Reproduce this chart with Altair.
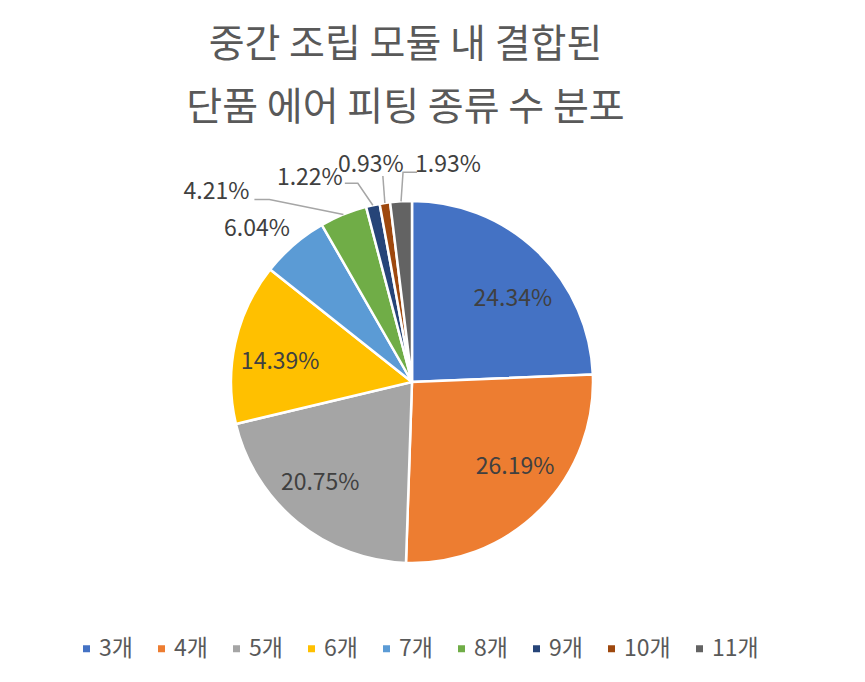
import altair as alt
import pandas as pd
import numpy as np

# ---- data ----
categories = ["3개", "4개", "5개", "6개", "7개", "8개", "9개", "10개", "11개"]
shares = [24.34, 26.19, 20.75, 14.39, 6.04, 4.21, 1.22, 0.93, 1.93]
title_lines = ["중간 조립 모듈 내 결합된", "단품 에어 피팅 종류 수 분포"]

# ---- style / layout ----
colors = ["#4472C4", "#ED7D31", "#A5A5A5", "#FFC000", "#5B9BD5",
          "#70AD47", "#264478", "#9E480E", "#636363"]
FONT = "Noto Sans CJK KR"
TOP = 130
W, H = 849, 536
CX, CY, R = 404, 244, 181
LABEL_R = 134
# small nudges of the inside labels (Excel "best fit")
inside_nudge = {"3개": (8, 14), "4개": (8, -9), "5개": (-7, -3), "6개": (-1, 9)}
# outside labels: offset of label centre from slice edge point; leader line bends
outside = {
    "7개": {"label": (-37, -16), "line": []},
    "8개": {"label": (-127, -22), "line": [(-74, -15), (-89, -15)]},
    "9개": {"label": (-63, -27), "line": [(-15, -22), (-28, -22)]},
    "10개": {"label": (-14, -38), "line": [(-2, -27)]},
    "11개": {"label": (47, -36), "line": [(2, -29), (16, -29)]},
}

vals = np.array(shares)
cum = np.cumsum(vals)
mid = (cum - vals / 2) / vals.sum() * 2 * np.pi

lab_rows, line_rows = [], []
for i, c in enumerate(categories):
    s, co = np.sin(mid[i]), np.cos(mid[i])
    txt = f"{shares[i]:.2f}%"
    if c in outside:
        ex, ey = CX + R * s, CY - R * co
        dx, dy = outside[c]["label"]
        lab_rows.append({"category": c, "text": txt, "x": ex + dx, "y": ey + dy})
        pts = outside[c]["line"]
        if pts:
            line_rows.append({"category": c, "o": 0, "x": ex, "y": ey})
            for k, (px, py) in enumerate(pts):
                line_rows.append({"category": c, "o": k + 1, "x": ex + px, "y": ey + py})
    else:
        nx, ny = inside_nudge.get(c, (0, 0))
        lab_rows.append({"category": c, "text": txt,
                         "x": CX + LABEL_R * s + nx, "y": CY - LABEL_R * co + ny})

df = pd.DataFrame({"category": categories, "share": shares, "idx": range(len(categories))})
labels = pd.DataFrame(lab_rows)
lines = pd.DataFrame(line_rows)

arc = alt.Chart(df).mark_arc(outerRadius=R, stroke="white", strokeWidth=2.5).encode(
    theta=alt.Theta("share:Q", stack=True),
    order=alt.Order("idx:Q"),
    color=alt.Color(
        "category:N",
        sort=categories,
        scale=alt.Scale(domain=categories, range=colors),
        legend=alt.Legend(
            title=None, orient="none", legendX=67, legendY=499,
            direction="horizontal", columns=9,
            symbolType="square", symbolSize=49,
            symbolStrokeWidth=0, labelFont=FONT, labelFontSize=23,
            labelColor="#595959", columnPadding=17, labelOffset=1,
        ),
    ),
    x=alt.value(CX),
    y=alt.value(CY),
)

leader = alt.Chart(lines).mark_line(color="#A6A6A6", strokeWidth=1.5).encode(
    x=alt.X("x:Q", scale=None),
    y=alt.Y("y:Q", scale=None),
    detail="category:N",
    order="o:Q",
)

text = alt.Chart(labels).mark_text(font=FONT, fontSize=23, color="#404040",
                                   align="center", baseline="middle").encode(
    x=alt.X("x:Q", scale=None),
    y=alt.Y("y:Q", scale=None),
    text="text:N",
)

chart = alt.layer(arc, leader, text).properties(
    width=W,
    height=H,
    padding={"top": TOP, "left": 0, "right": 0, "bottom": 0},
    autosize=alt.AutoSizeParams(type="none"),
    title=alt.TitleParams(
        text=title_lines, font=FONT, fontSize=39, fontWeight="normal",
        color="#595959", lineHeight=63, anchor="middle", dx=-27, offset=10,
    ),
).configure_view(stroke=None)

chart.save("out.html", embed_options={"renderer": "svg", "actions": False})
